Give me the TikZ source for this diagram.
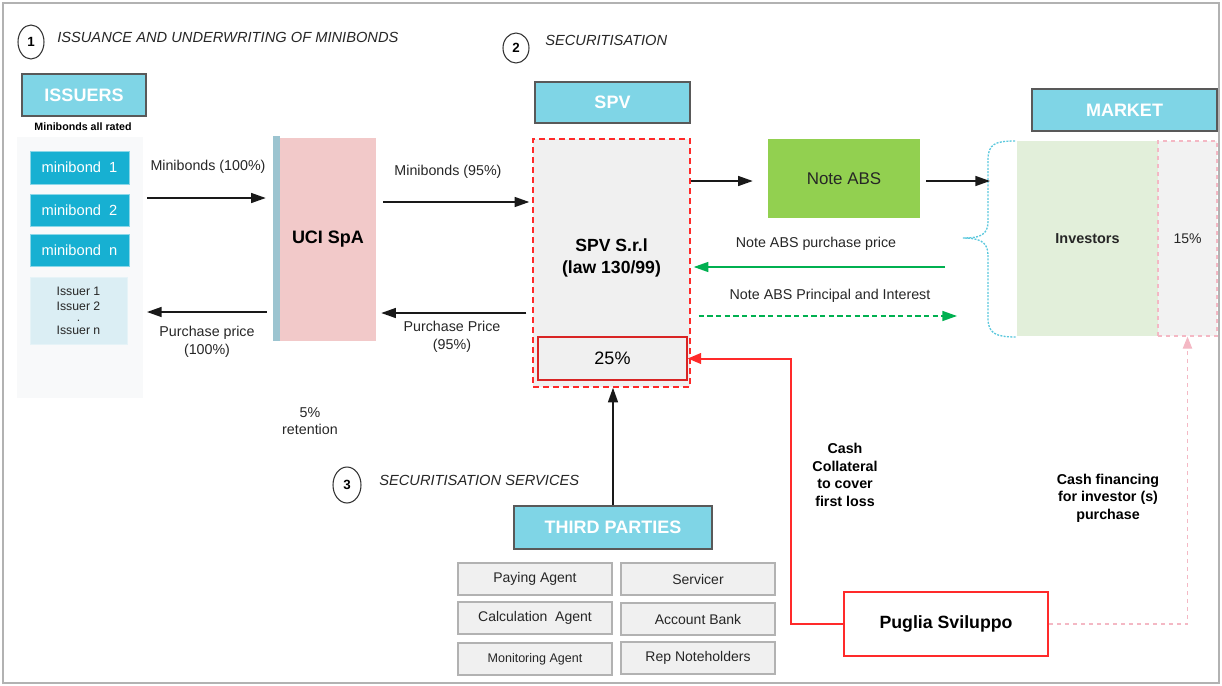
\documentclass[tikz,border=0pt]{standalone}
\usepackage{fontspec}
\setmainfont{Liberation Sans}
\usetikzlibrary{arrows.meta,calc}
\definecolor{hdr}{HTML}{7FD5E6}
\definecolor{mb}{HTML}{17B0D2}
\definecolor{iss}{HTML}{DBEEF4}
\definecolor{pinkf}{HTML}{F2C9C9}
\definecolor{stripec}{HTML}{9CC4D0}
\definecolor{spvf}{HTML}{F0F0F0}
\definecolor{noteg}{HTML}{92D050}
\definecolor{invg}{HTML}{E2EFDA}
\definecolor{grn}{HTML}{00B050}
\definecolor{redc}{HTML}{FF2A2A}
\definecolor{pinkd}{HTML}{F4B8C4}
\definecolor{brc}{HTML}{5BC8DD}
\definecolor{panelc}{HTML}{F8F9FA}
\definecolor{txt}{HTML}{262626}
\tikzset{
  sz/.style 2 args={minimum width=#1*0.75pt, minimum height=#2*0.75pt},
  hdrbox/.style={draw=black!65, line width=1pt, fill=hdr, text=white,
    font=\fontsize{13.5}{16}\selectfont\bfseries, inner sep=0pt},
  mbbox/.style={fill=mb, draw=mb!50!white, line width=0.6pt, text=white,
    font=\fontsize{11}{13}\selectfont, inner sep=0pt},
  tpbox/.style={fill=black!6, draw=black!30, line width=1pt, text=txt,
    font=\fontsize{10.5}{12}\selectfont, inner sep=0pt},
  lbl/.style={font=\fontsize{10.7}{13.2}\selectfont, text=txt, align=center, inner sep=0pt},
  blbl/.style={font=\fontsize{10.7}{13.2}\selectfont\bfseries, text=black, align=center, inner sep=0pt},
  ttl/.style={font=\fontsize{11}{13}\selectfont\itshape, text=txt, anchor=west, inner sep=0pt},
  arr/.style={-{Triangle[length=11pt,width=7.5pt]}, line width=1.1pt, draw=black!90},
  garr/.style={-{Triangle[length=11pt,width=7.5pt]}, line width=1.1pt, draw=grn},
}
\begin{document}
\begin{tikzpicture}[x=0.75pt,y=-0.75pt]
\useasboundingbox (0,0) rectangle (1222,686);
\draw[black!30, line width=0.8pt] (3,3) rectangle (1219,683);

% section titles
\draw[black!80, line width=0.8pt] (31,42) ellipse [x radius=13, y radius=17];
\node[font=\fontsize{10}{12}\selectfont\bfseries] (n1) at (31,42) {1};
\node[ttl] (t1) at (57,37) {ISSUANCE AND UNDERWRITING OF MINIBONDS};
\draw[black!80, line width=0.8pt] (516,48) ellipse [x radius=13, y radius=15];
\node[font=\fontsize{10}{12}\selectfont\bfseries] (n2) at (516,48) {2};
\node[ttl] (t2) at (545,40) {SECURITISATION};
\draw[black!80, line width=0.8pt] (347,485) ellipse [x radius=14, y radius=18];
\node[font=\fontsize{10}{12}\selectfont\bfseries] (n3) at (347,485) {3};
\node[ttl] (t3) at (379,480) {SECURITISATION SERVICES};

% issuers
\node[hdrbox, sz={124}{42}] (issuers) at (84,95) {ISSUERS};
\node[font=\fontsize{8}{10}\selectfont\bfseries, inner sep=0pt] (rated) at (83,127) {Minibonds all rated};
\node[fill=panelc, sz={126}{261}, inner sep=0pt] (panel) at (80,267.5) {};
\node[mbbox, sz={99}{33}] (mb1) at (79.5,167.5) {minibond\ \ 1};
\node[mbbox, sz={99}{32}] (mb2) at (79.5,210) {minibond\ \ 2};
\node[mbbox, sz={99}{32}] (mbn) at (79.5,250) {minibond\ \ n};
\node[fill=iss, draw=iss!70!white, sz={97}{67}, inner sep=0pt, text=txt,
  font=\fontsize{9.2}{11.2}\selectfont, align=center] (iss) at (78.5,311)
  {Issuer 1\\Issuer 2\\[-3pt].\\[-1pt]Issuer n};

% UCI
\node[fill=stripec, sz={7}{205}, inner sep=0pt] (stripe) at (276.5,238.5) {};
\node[fill=pinkf, sz={96}{203}, inner sep=0pt, font=\fontsize{13.5}{16}\selectfont\bfseries] (uci) at (328,239.5) {UCI SpA};

% SPV
\node[hdrbox, sz={155}{41}] (spvh) at (612.5,102.5) {SPV};
\node[fill=spvf, draw=redc, dashed, dash pattern=on 4.5pt off 3pt, line width=1.1pt,
  sz={157}{248}, inner sep=0pt] (spv) at (611.5,263) {};
\node[blbl, font=\fontsize{13.2}{16.5}\selectfont\bfseries] (spvt) at (611.5,258) {SPV S.r.l\\(law 130/99)};
\node[fill=spvf, draw=redc!85!black, line width=1.1pt, sz={149}{43}, inner sep=0pt,
  font=\fontsize{13.5}{16}\selectfont] (p25) at (612.5,358.5) {25\%};

% Note ABS
\node[fill=noteg, sz={152}{79}, inner sep=0pt, font=\fontsize{12.7}{15}\selectfont, text=txt] (note) at (844,178.5) {Note ABS};

% Market
\node[hdrbox, sz={185}{42}] (mkth) at (1124.5,110) {MARKET};
\node[fill=invg, sz={141}{195}, inner sep=0pt, font=\fontsize{10.8}{13}\selectfont\bfseries, text=txt] (inv) at (1087.5,238.5) {Investors};
\node[fill=black!5, draw=pinkd, dashed, line width=0.9pt, sz={59}{195}, inner sep=0pt,
  font=\fontsize{10.5}{13}\selectfont, text=txt] (p15) at (1187.5,238.5) {15\%};
\draw[brc, line width=1pt, dash pattern=on 1.5pt off 1pt]
  (1015,141) .. controls (995,141) and (988,144) .. (988,160)
  -- (988,222) .. controls (988,236) and (978,238) .. (963,238)
  .. controls (978,238) and (988,241) .. (988,255)
  -- (988,318) .. controls (988,333) and (995,337) .. (1016,337);

% third parties
\node[hdrbox, sz={198}{43}] (tp) at (613,527.5) {THIRD PARTIES};
\node[tpbox, sz={154}{32}] (pay) at (535,579) {Paying Agent};
\node[tpbox, sz={154}{32}] (serv) at (698,579) {Servicer};
\node[tpbox, sz={154}{32}] (calc) at (535,618) {Calculation\ \ Agent};
\node[tpbox, sz={154}{32}] (acct) at (698,619) {Account Bank};
\node[tpbox, sz={154}{32}, font=\fontsize{9.4}{11}\selectfont] (mon) at (535,659) {Monitoring Agent};
\node[tpbox, sz={154}{32}] (rep) at (698,658) {Rep Noteholders};

% Puglia
\node[fill=white, draw=redc, line width=1.3pt, sz={204}{64}, inner sep=0pt,
  font=\fontsize{13.3}{16}\selectfont\bfseries] (pug) at (946,624) {Puglia Sviluppo};

% labels
\node[lbl] (l1) at (208,167) {Minibonds (100\%)};
\node[lbl] (l2) at (207,342) {Purchase price\\(100\%)};
\node[lbl] (l3) at (448,172) {Minibonds (95\%)};
\node[lbl] (l4) at (452,337) {Purchase Price\\(95\%)};
\node[lbl] (l5) at (310,421) {5\%\\retention};
\node[lbl] (l6) at (816,244) {Note ABS purchase price};
\node[lbl] (l7) at (830,296) {Note ABS Principal and Interest};
\node[blbl] (l8) at (845,475) {Cash\\Collateral\\to cover\\first loss};
\node[blbl] (l9) at (1108,498) {Cash financing\\for investor (s)\\purchase};

% connectors
\coordinate (a1s) at (147,198);
\draw[arr] (a1s) -- ($(a1s -| stripe.west)+(-7,0)$);
\coordinate (a2e) at (147,312);
\draw[arr] ($(a2e -| stripe.west)+(-6,0)$) -- (a2e);
\draw[arr] ($(uci.east |- 0,202)+(7,0)$) -- ($(spv.west |- 0,202)+(-3,0)$);
\draw[arr] ($(spv.west |- 0,313)+(-6,0)$) -- ($(uci.east |- 0,313)+(5,0)$);
\draw[arr] (spv.east |- 0,181) -- ($(note.west |- 0,181)+(-15,0)$);
\coordinate (a6e) at (990,181);
\draw[arr] ($(note.east |- a6e)+(6,0)$) -- (a6e);
\coordinate (a7s) at (945,267);
\draw[garr] (a7s) -- ($(a7s -| spv.east)+(3,0)$);
\coordinate (a8e) at (957,316);
\draw[garr, dashed, dash pattern=on 4pt off 2.5pt] ($(a8e -| spv.east)+(8,0)$) -- (a8e);
\draw[arr] (tp.north) -- (tp.north |- spv.south);
\coordinate (rc) at (791,358.5);
\draw[redc, line width=1.5pt, -{Triangle[length=10pt,width=8pt]}] (pug.west) -| (rc) -- (p25.east);
\draw[pinkd, line width=0.9pt, dashed, -{Triangle[length=9pt,width=7pt]}] (pug.east) -| (p15.south);
\end{tikzpicture}
\end{document}
